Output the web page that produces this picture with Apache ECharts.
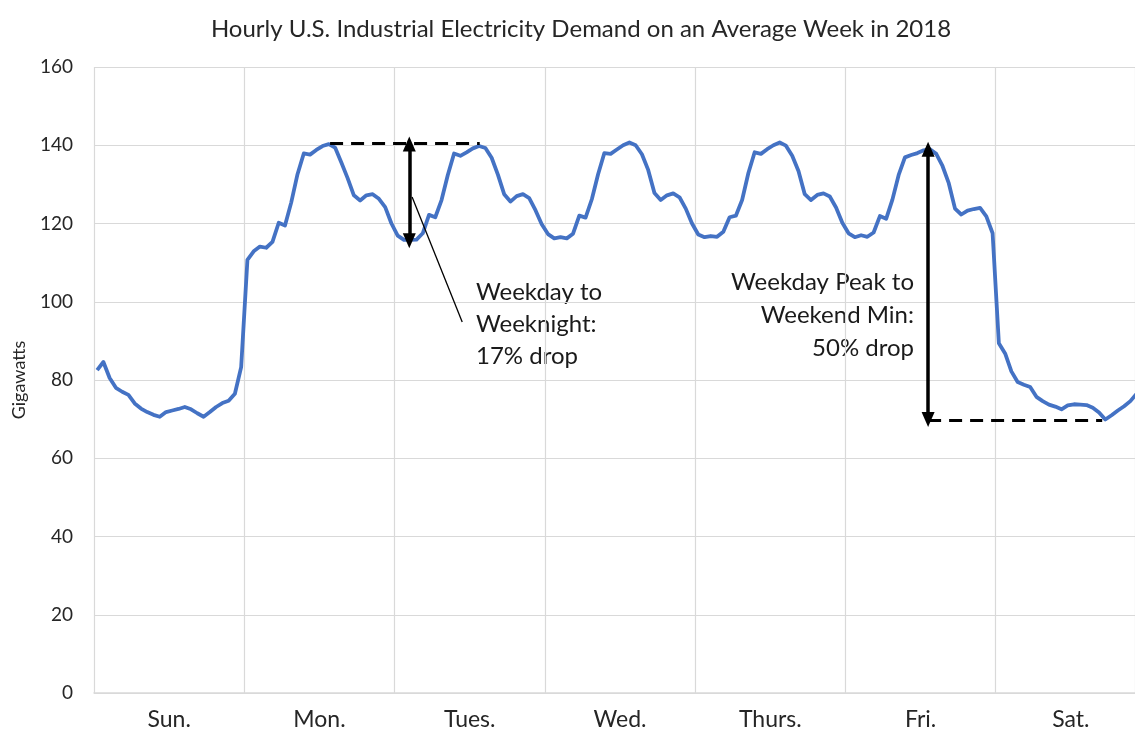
<!DOCTYPE html>
<html>
<head>
<meta charset="utf-8">
<script src="https://cdn.jsdelivr.net/npm/echarts@6/dist/echarts.min.js"></script>
<style>
html,body{margin:0;padding:0;background:#fff;}
#chart{width:1135px;height:729px;}
</style>
</head>
<body>
<div id="chart"></div>
<script>
// Day labels
const days = ['Sun.', 'Mon.', 'Tues.', 'Wed.', 'Thurs.', 'Fri.', 'Sat.'];
// Y tick values
const yTicks = [0, 20, 40, 60, 80, 100, 120, 140, 160];
// Hourly demand (GW), 24 values per day
const sun = [82.5, 84.6, 80.5, 78.0, 77.0, 76.2, 74.0, 72.7, 71.8, 71.1, 70.6, 71.8, 72.2, 72.6, 73.1, 72.5, 71.5, 70.6, 71.8, 73.1, 74.1, 74.7, 76.5, 83.3];
const mon = [110.7, 112.9, 114.1, 113.8, 115.3, 120.2, 119.5, 125.4, 132.6, 137.9, 137.6, 138.8, 139.8, 140.3, 139.4, 135.6, 131.6, 127.2, 125.9, 127.2, 127.5, 126.3, 124.2, 120.0];
const tue = [116.9, 115.8, 115.8, 115.9, 117.5, 122.2, 121.6, 126.0, 132.4, 137.9, 137.3, 138.2, 139.2, 139.8, 139.3, 136.8, 132.5, 127.5, 125.6, 127.0, 127.5, 126.5, 123.4, 119.8];
const wed = [117.3, 116.2, 116.5, 116.2, 117.4, 122.0, 121.5, 126.2, 132.6, 138.0, 137.8, 138.9, 140.0, 140.7, 140.0, 137.7, 133.7, 127.8, 126.0, 127.2, 127.7, 126.7, 123.8, 120.0];
const thu = [117.2, 116.5, 116.8, 116.6, 117.9, 121.6, 122.0, 126.0, 132.9, 138.2, 137.8, 139.0, 140.0, 140.7, 139.9, 137.3, 133.4, 127.5, 126.0, 127.3, 127.7, 126.9, 124.1, 120.2];
const fri = [117.5, 116.5, 117.0, 116.6, 117.7, 121.9, 121.2, 126.1, 132.4, 136.9, 137.5, 138.0, 138.7, 139.0, 137.8, 134.7, 130.3, 123.8, 122.3, 123.3, 123.7, 124.0, 121.8, 117.5];
const sat = [89.4, 86.8, 82.2, 79.5, 78.8, 78.2, 75.7, 74.6, 73.7, 73.2, 72.5, 73.5, 73.8, 73.7, 73.6, 72.9, 71.7, 69.9, 71.0, 72.2, 73.3, 74.6, 76.5, 78.0];

// Visible hour range (the week is cut off at the right edge of the picture)
const xMin = 0, xMax = 166.24;

// Annotation lines in data coordinates [hour, GW]
const peakDash = [[37.7, 140.6], [61.6, 140.6]];
const nightArrow = [[50.35, 140.3], [50.35, 115.6]];
const leader = [[50.8, 126.8], [58.8, 94.8]];
const weekendArrow = [[133.2, 139.0], [133.2, 69.9]];
const minDash = [[133.2, 69.8], [161.0, 69.8]];

const week = [sun, mon, tue, wed, thu, fri, sat];
const seriesData = [];
week.forEach((d, i) => d.forEach((v, h) => seriesData.push([i * 24 + h + 0.5, v])));
const dayCenters = days.map((d, i) => i * 24 + 12);

const FONT = 'Lato, "Open Sans", sans-serif';
const chart = echarts.init(document.getElementById('chart'), null, {renderer: 'canvas'});

function seg(p, style, sym0, sym1) {
  return [
    {coord: p[0], symbol: sym0, symbolSize: [13, 15], lineStyle: style},
    {coord: p[1], symbol: sym1, symbolSize: [13, 15]}
  ];
}

const dashStyle = {color: '#000', width: 3, type: [13, 8]};
const arrowStyle = {color: '#000', width: 3.5, type: 'solid'};
const thinStyle = {color: '#000', width: 1.3, type: 'solid'};

chart.setOption({
  animation: false,
  backgroundColor: '#fff',
  title: {
    text: 'Hourly U.S. Industrial Electricity Demand on an Average Week in 2018',
    left: 576, top: 12, textAlign: 'center',
    textStyle: {fontFamily: FONT, fontSize: 24, fontWeight: 'normal', color: '#262626'}
  },
  grid: {left: 94, top: 67, right: 0, height: 626, containLabel: false, outerBoundsMode: 'none'},
  xAxis: {
    type: 'value', min: xMin, max: xMax, interval: 24,
    axisLine: {show: true, lineStyle: {color: '#d9d9d9', width: 1.5}},
    axisTick: {show: false},
    axisLabel: {
      show: true, customValues: dayCenters,
      formatter: v => days[Math.round((v - 12) / 24)] || '',
      fontFamily: FONT, fontSize: 23, color: '#262626', margin: 15
    },
    splitLine: {show: true, lineStyle: {color: '#d9d9d9', width: 1.2}}
  },
  yAxis: {
    type: 'value', min: yTicks[0], max: yTicks[yTicks.length - 1], interval: 20,
    name: 'Gigawatts', nameLocation: 'middle', nameGap: 66, nameRotate: 90,
    nameTextStyle: {fontFamily: FONT, fontSize: 18, color: '#262626'},
    axisLine: {show: false}, axisTick: {show: false},
    axisLabel: {fontFamily: FONT, fontSize: 19, color: '#262626', margin: 21},
    splitLine: {show: true, lineStyle: {color: '#d9d9d9', width: 1.2}}
  },
  series: [{
    type: 'line', data: seriesData, showSymbol: false, symbol: 'none',
    lineStyle: {color: '#4472C4', width: 3.8, join: 'round'},
    itemStyle: {color: '#4472C4'},
    silent: true,
    markLine: {
      silent: true, animation: false,
      label: {show: false},
      emphasis: {disabled: true},
      data: [
        seg(peakDash, dashStyle, 'none', 'none'),
        seg(minDash, dashStyle, 'none', 'none'),
        seg(nightArrow, arrowStyle, 'triangle', 'triangle'),
        seg(weekendArrow, arrowStyle, 'triangle', 'triangle'),
        seg(leader, thinStyle, 'none', 'none')
      ]
    }
  }],
  graphic: [
    {type: 'text', silent: true,
     style: {x: 476, y: 276, text: 'Weekday to\nWeeknight:\n17% drop', fill: '#1a1a1a', font: '24px ' + FONT, lineHeight: 32, textAlign: 'left', textVerticalAlign: 'top'}},
    {type: 'text', silent: true,
     style: {x: 914, y: 266, text: 'Weekday Peak to\nWeekend Min:\n50% drop', fill: '#1a1a1a', font: '24px ' + FONT, lineHeight: 33, textAlign: 'right', textVerticalAlign: 'top'}}
  ]
});
</script>
</body>
</html>
